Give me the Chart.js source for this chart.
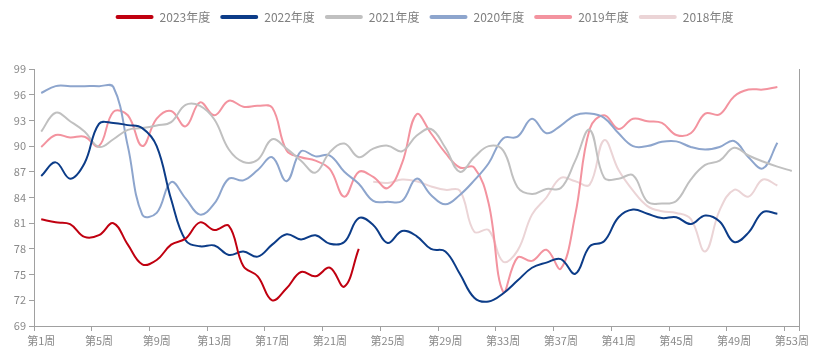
<!DOCTYPE html>
<html>
<head>
<meta charset="utf-8">
<script src="https://cdn.jsdelivr.net/npm/chart.js@4"></script>
<style>
  html, body { margin: 0; padding: 0; background: #fff; }
  #wrap { width: 820px; height: 353px; }
</style>
</head>
<body>
<div id="wrap"><canvas id="chart" width="820" height="353"></canvas></div>
<script>
// week categories 第1周 .. 第53周
const weeks = Array.from({ length: 53 }, (_, i) => '第' + (i + 1) + '周');
const yTicks = [69, 99, 3]; // min, max, step

const s2023 = [81.45, 81.1, 80.9, 79.4, 79.6, 81.0, 78.5, 76.2, 76.7, 78.5, 79.2, 81.1, 80.2, 80.7, 76.0,
  74.8, 72.0, 73.4, 75.3, 74.8, 75.8, 73.6, 78.0];

const s2022 = [86.5, 88.1, 86.2, 88.0, 92.6, 92.7, 92.45, 92.1, 90.0, 83.8, 79.0, 78.3, 78.4, 77.3, 77.7,
  77.1, 78.5, 79.7, 79.1, 79.6, 78.6, 78.8, 81.6, 80.8, 78.7, 80.1, 79.5, 78.0, 77.7, 75.1,
  72.3, 71.85, 72.8, 74.3, 75.8, 76.4, 76.8, 75.1, 78.3, 78.9, 81.7, 82.6, 82.1, 81.6, 81.7,
  80.9, 81.9, 81.2, 78.8, 79.9, 82.3, 82.1, null];

const s2021 = [91.7, 93.9, 92.9, 91.7, 89.9, 90.8, 91.9, 92.1, 92.4, 92.8, 94.8, 94.7, 93.1, 89.6, 88.15,
  88.4, 90.8, 89.7, 88.3, 86.9, 89.3, 90.3, 88.7, 89.7, 90.05, 89.4, 91.2, 92.0, 89.8, 87.0,
  88.7, 90.0, 89.5, 85.2, 84.4, 85.0, 85.1, 88.3, 91.9, 86.3, 86.2, 86.6, 83.5, 83.3, 83.6,
  86.1, 87.8, 88.3, 89.8, 88.9, 88.2, 87.6, 87.1];

const s2020 = [96.2, 97.0, 97.0, 97.0, 97.0, 96.9, 90.0, 82.0, 82.2, 85.8, 83.9, 82.0, 83.3, 86.2, 86.0,
  87.2, 88.7, 85.9, 89.4, 88.8, 88.9, 87.0, 85.6, 83.6, 83.5, 83.6, 86.2, 84.3, 83.2, 84.3,
  86.0, 88.0, 90.9, 91.1, 93.2, 91.5, 92.4, 93.6, 93.8, 93.3, 91.5, 90.0, 90.0, 90.5, 90.55,
  89.9, 89.6, 89.9, 90.6, 88.7, 87.4, 90.4, null];

const s2019 = [89.9, 91.3, 91.0, 91.1, 90.0, 94.0, 93.6, 90.0, 93.2, 94.1, 92.3, 95.1, 93.6, 95.3, 94.6,
  94.7, 94.5, 89.5, 88.7, 88.3, 87.3, 84.1, 87.0, 86.4, 85.1, 88.0, 93.7, 91.5, 89.2, 87.5,
  87.5, 83.3, 73.0, 77.0, 76.6, 77.9, 75.7, 82.0, 92.0, 93.6, 92.0, 93.2, 92.9, 92.7, 91.3,
  91.5, 93.8, 93.7, 95.8, 96.6, 96.6, 96.9, null];

const s2018 = [null, null, null, null, null, null, null, null, null, null, null, null, null, null, null,
  null, null, null, null, null, null, null, null, 85.85, 85.7, 86.1, 85.9, 85.3, 84.9, 84.8,
  80.0, 80.2, 76.5, 77.8, 82.0, 84.0, 86.3, 85.9, 85.5, 90.7, 87.2, 84.8, 83.0, 82.4, 82.2,
  81.5, 77.7, 82.5, 84.9, 84.1, 86.1, 85.4, null];

const seriesNames = ['2023年度', '2022年度', '2021年度', '2020年度', '2019年度', '2018年度'];
const seriesData = [s2023, s2022, s2021, s2020, s2019, s2018];
const seriesColors = ['#c00010', '#0c3c88', '#c0c0c0', '#8da5cd', '#f3939f', '#ebd4d6'];

const axisColor = '#a0a0a0';
const labelColor = '#8a8a8a';
Chart.defaults.font.family = '"Noto Sans CJK SC", "Noto Sans", sans-serif';

// give the legend a fixed band above the plot, nudged a bit to the right
const legendSpace = {
  id: 'legendSpace',
  beforeInit(chart) {
    const fit = chart.legend.fit;
    chart.legend.fit = function () {
      fit.call(this);
      this.height = 68;
    };
  },
  afterLayout(chart) {
    chart.legend.left += 8;
    chart.legend.right += 8;
  }
};

new Chart(document.getElementById('chart'), {
  type: 'line',
  data: {
    labels: weeks,
    datasets: seriesNames.map((name, i) => ({
      label: name,
      data: seriesData[i],
      borderColor: seriesColors[i],
      backgroundColor: seriesColors[i],
      borderWidth: 2,
      pointRadius: 0,
      tension: 0.4,
      fill: false
    }))
  },
  plugins: [legendSpace],
  options: {
    responsive: false,
    animation: false,
    layout: { padding: { top: 1, right: 21, left: 0, bottom: 0 } },
    plugins: {
      tooltip: { enabled: false },
      legend: {
        position: 'top',
        fullSize: false,
        labels: {
          color: '#7f7f7f',
          font: { size: 12 },
          boxWidth: 38,
          boxHeight: 4,
          padding: 10,
          useBorderRadius: true,
          borderRadius: 2,
          generateLabels: chart => Chart.defaults.plugins.legend.labels.generateLabels(chart)
            .map(l => ({ ...l, lineWidth: 0, fillStyle: l.strokeStyle }))
        }
      }
    },
    scales: {
      x: {
        type: 'category',
        offset: true,
        grid: {
          display: true,
          offset: true,
          drawOnChartArea: false,
          tickLength: 5,
          tickColor: c => (c.type === 'scale' || c.index % 4 === 0) ? axisColor : 'rgba(0,0,0,0)'
        },
        border: { color: axisColor },
        ticks: {
          autoSkip: false,
          maxRotation: 0,
          padding: 3,
          color: labelColor,
          font: { size: 11 },
          callback: (v, i) => i % 4 === 0 ? weeks[i] : ''
        },
        afterFit: s => { s.height = 27; }
      },
      y: {
        min: yTicks[0],
        max: yTicks[1],
        grid: { drawOnChartArea: false, tickLength: 5, tickColor: axisColor },
        border: { color: axisColor },
        ticks: { stepSize: yTicks[2], padding: 3, color: labelColor, font: { size: 11 } },
        afterFit: s => { s.width = 34; }
      },
      y2: {
        position: 'right',
        min: yTicks[0],
        max: yTicks[1],
        grid: { display: false, drawTicks: false },
        border: { display: true, color: axisColor },
        ticks: { display: false },
        afterFit: s => { s.width = 0; }
      }
    }
  }
});
</script>
</body>
</html>
